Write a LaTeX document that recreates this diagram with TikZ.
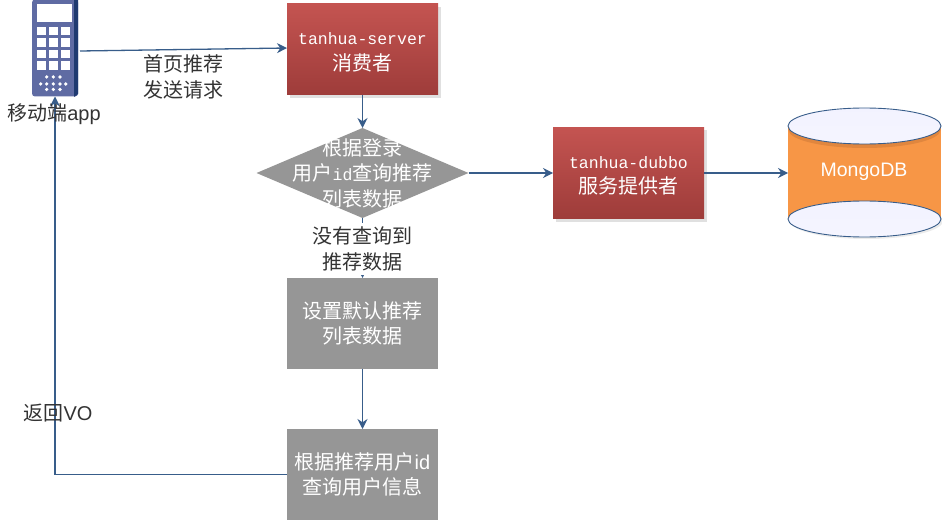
\documentclass[tikz,border=0pt]{standalone}
\usepackage{fontspec}
\setmainfont{Liberation Sans}
\newfontfamily\cjk{Noto Sans CJK SC}
\newfontfamily\monofont{Liberation Mono}
\usepackage{xcolor}
\usetikzlibrary{positioning,arrows.meta,shapes.geometric,shadows}
\definecolor{linkblue}{RGB}{56,93,138}
\definecolor{redtop}{RGB}{196,84,81}
\definecolor{redbottom}{RGB}{158,60,58}
\definecolor{flowgray}{RGB}{150,150,150}
\definecolor{dborange}{RGB}{247,150,70}
\definecolor{dbshade}{RGB}{224,134,62}
\definecolor{phoneblue}{RGB}{95,107,163}
\definecolor{phonedark}{RGB}{31,58,112}
\tikzset{
  base/.style={font=\fontsize{20}{25.5}\selectfont\cjk, align=center, inner sep=0pt, outer sep=0pt},
  box/.style={base, minimum width=151pt, minimum height=91pt, text=white},
  redbox/.style={box, top color=redtop, bottom color=redbottom, drop shadow={shadow xshift=3pt, shadow yshift=-3pt, fill=black, opacity=.12}},
  graybox/.style={box, fill=flowgray},
  lid/.style={ellipse, draw=linkblue, line width=.9pt, minimum width=153pt, minimum height=36pt, inner sep=0pt, top color=white!95!blue, bottom color=blue!4!white},
  caption/.style={base, text=black!80},
  arrow/.style={-{Stealth[length=10pt,width=10pt]}, line width=1.3pt, draw=linkblue},
}
\newcommand{\mono}[1]{\rule{0pt}{18pt}{\fontsize{16.5}{25.5}\selectfont\monofont #1}}
\begin{document}
\begin{tikzpicture}[x=1pt,y=-1pt,node distance=33pt and 84pt]
  \useasboundingbox (0,0) rectangle (942,524);

  % flow boxes
  \node[redbox] (server) at (362.5,49.5) {\mono{tanhua-server}\\消费者};
  \node[diamond, fill=flowgray, minimum width=212pt, minimum height=90pt, aspect=2.36, inner sep=0pt, outer sep=0pt, below=33pt of server] (query) {};
  \node[redbox, right=84.5pt of query] (dubbo) {\mono{tanhua-dubbo}\\服务提供者};
  \node[graybox, below=60pt of query] (default) {设置默认推荐\\列表数据};
  \node[graybox, below=60pt of default] (user) {根据推荐用户{\fontspec{Liberation Sans}id}\\查询用户信息};

  % database
  \node[fill=dborange, minimum width=153pt, minimum height=93pt, inner sep=0pt, outer sep=0pt] (mongo) at (864.5,172.5) {};
  \fill[dbshade] (864.5,130) ellipse [x radius=76pt, y radius=18pt];
  \node[lid] (mongotop) at (864.5,126) {};
  \node[lid, drop shadow={shadow xshift=2pt, shadow yshift=-2pt, fill=black, opacity=.08}] (mongobottom) at (864.5,219) {};
  \node[base, text=white, font=\fontsize{19.5}{25.5}\selectfont] (mongotext) at (864,172) {MongoDB};

  % phone
  \node[fill=phoneblue, rounded corners=3pt, minimum width=46pt, minimum height=97pt, inner sep=0pt, outer sep=0pt] (phone) at (55,48) {};
  \fill[phonedark] (74,-1) -- (78,-1) -- (78,94) -- (74,97) -- cycle;
  \fill[white] (37.3,4) rectangle (72,21.7);
  \foreach \col in {37.3,49.3,61.3}
    \foreach \row in {26.7,38.3,49.7,61.3}
      \fill[white] (\col,\row) rectangle ++(9,8.5);
  \foreach \col in {46.7,53.3,60}
    \foreach \row in {77,84,89.5}
      \fill[white] (\col,\row) circle (1.8pt);
  \fill[white] (40.7,84) circle (1.8pt) (65.7,84) circle (1.8pt);

  % connectors
  \coordinate (phoneout) at (80,51);
  \node[base, text=white] (querytext) at (query) {根据登录\\用户\mono{id}查询推荐\\列表数据};
  \draw[arrow] (phoneout) -- (server.west |- 0,48);
  \draw[arrow] (server) -- (query);
  \draw[arrow] (query) -- (dubbo);
  \draw[arrow] (dubbo) -- (mongo.west |- dubbo);
  \draw[arrow] (query) -- (default);
  \draw[arrow] (default) -- (user);
  \draw[arrow] (user) -| (phone.south);

  % labels
  \node[caption] (sendlabel) at (183,77) {首页推荐\\发送请求};
  \node[caption] (applabel) at (54,114) {移动端{\fontspec{Liberation Sans}app}};
  \node[caption, fill=white, minimum width=104pt, minimum height=52pt] (emptylabel) at (362,249) {没有查询到\\推荐数据};
  \node[caption] (backlabel) at (58,413) {返回{\fontspec{Liberation Sans}VO}};
\end{tikzpicture}
\end{document}
